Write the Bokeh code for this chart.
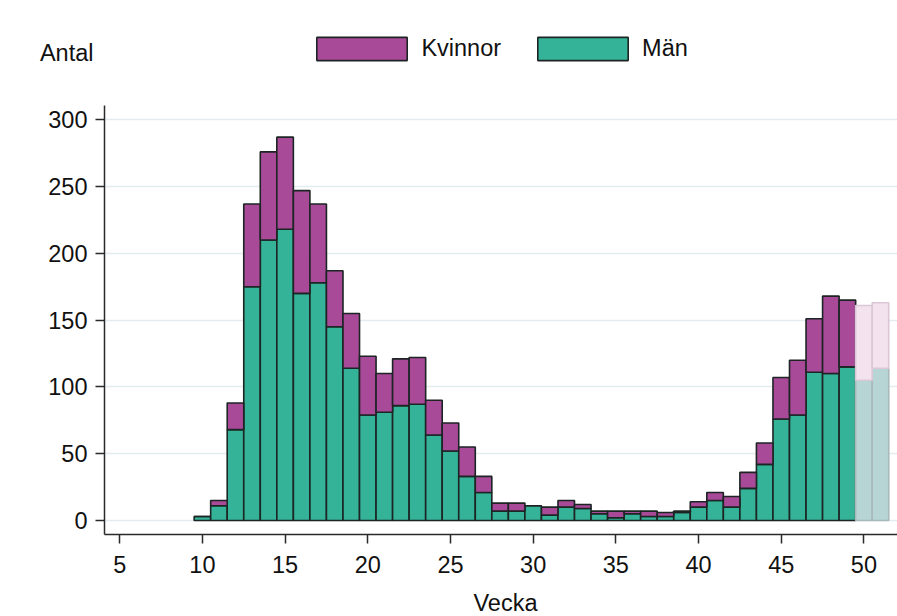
from bokeh.plotting import figure
from bokeh.layouts import column
from bokeh.models import ColumnDataSource, Legend, LegendItem, Label, Range1d, FixedTicker
from bokeh.embed import file_html
from bokeh.resources import INLINE

# ---- data ----
weeks = [10, 11, 12, 13, 14, 15, 16, 17, 18, 19, 20, 21, 22, 23, 24, 25, 26, 27, 28, 29,
         30, 31, 32, 33, 34, 35, 36, 37, 38, 39, 40, 41, 42, 43, 44, 45, 46, 47, 48, 49,
         50, 51]
men = [3, 11, 68, 175, 210, 218, 170, 178, 145, 114, 79, 81, 86, 87, 64, 52, 33, 21, 7, 7,
       11, 4, 10, 9, 5, 2, 5, 3, 3, 6, 10, 15, 10, 24, 42, 76, 79, 111, 110, 115,
       105, 114]
women = [0, 4, 20, 62, 66, 69, 77, 59, 42, 41, 44, 29, 35, 35, 26, 21, 22, 12, 6, 6,
         0, 6, 5, 3, 2, 5, 2, 4, 3, 1, 4, 6, 8, 12, 16, 31, 41, 40, 58, 50,
         56, 49]
preliminary_weeks = [50, 51]
x_ticks = [5, 10, 15, 20, 25, 30, 35, 40, 45, 50]
y_ticks = [0, 50, 100, 150, 200, 250, 300]
series_labels = ["Kvinnor", "Män"]
x_title = "Vecka"
y_title = "Antal"

# ---- styles ----
FONT = "Liberation Sans"
FS = "23.5px"
TXT = "#111111"
C_WOMEN = "#a94a98"
C_MEN = "#34b398"
C_WOMEN_PRE = "#f2e3ef"
C_MEN_PRE = "#b7d5d5"
OUTLINE = "#1c2424"
OUTLINE_PRE = "#a9b9b9"
OUTLINE_PRE_W = "#dcc7d6"
W = 897
LEFT = 104


def build(sel):
    d = {"week": [], "men": [], "total": []}
    for w, m, f in zip(weeks, men, women):
        if sel(w):
            d["week"].append(w)
            d["men"].append(m)
            d["total"].append(m + f)
    return ColumnDataSource(d)


src = build(lambda w: w not in preliminary_weeks)
src_pre = build(lambda w: w in preliminary_weeks)

# ---------------- main chart ----------------
p = figure(width=W, height=479, output_backend="svg", toolbar_location=None,
           x_range=Range1d(4.08, 52.03), y_range=Range1d(-10.5, 310.7),
           min_border_left=LEFT, min_border_right=0, min_border_top=0, min_border_bottom=50)
p.outline_line_color = None

p.vbar(x="week", width=1.0, bottom=0, top="men", source=src,
       fill_color=C_MEN, line_color=OUTLINE, line_width=1.6)
p.vbar(x="week", width=1.0, bottom="men", top="total", source=src,
       fill_color=C_WOMEN, line_color=OUTLINE, line_width=1.6)
p.vbar(x="week", width=1.0, bottom=0, top="men", source=src_pre,
       fill_color=C_MEN_PRE, line_color=OUTLINE_PRE, line_width=1.6)
p.vbar(x="week", width=1.0, bottom="men", top="total", source=src_pre,
       fill_color=C_WOMEN_PRE, line_color=OUTLINE_PRE_W, line_width=1.6)

for ax in (p.xaxis[0], p.yaxis[0]):
    ax.axis_line_color = "#2a2a2a"
    ax.axis_line_width = 1.5
    ax.major_tick_line_color = "#2a2a2a"
    ax.major_tick_line_width = 1.5
    ax.major_tick_in = 0
    ax.major_tick_out = 9
    ax.minor_tick_line_color = None
    ax.major_label_text_font = FONT
    ax.major_label_text_font_size = FS
    ax.major_label_text_color = TXT

p.xaxis.ticker = FixedTicker(ticks=x_ticks)
p.yaxis.ticker = FixedTicker(ticks=y_ticks)
p.xaxis.major_label_standoff = 12
p.yaxis.major_label_standoff = 8

p.xgrid.visible = False
p.ygrid.ticker = FixedTicker(ticks=y_ticks)
p.ygrid.grid_line_color = "#e3ecee"
p.ygrid.grid_line_width = 1.5

# ---------------- header: y title + legend ----------------
h = figure(width=W, height=105, output_backend="svg", toolbar_location=None,
           x_range=Range1d(4.08, 52.03), y_range=Range1d(-10.5, 310.7),
           x_axis_type=None,
           min_border_left=LEFT, min_border_right=0, min_border_top=0, min_border_bottom=0)
h.outline_line_color = None
h.xgrid.visible = False
h.ygrid.visible = False
hy = h.yaxis[0]
hy.ticker = FixedTicker(ticks=[])
hy.axis_line_color = None
hy.major_tick_line_color = None
hy.minor_tick_line_color = None
hy.major_tick_out = 0
hy.major_tick_in = 0
hy.axis_label = y_title
hy.axis_label_orientation = "horizontal"
hy.axis_label_standoff = 11
hy.axis_label_text_font = FONT
hy.axis_label_text_font_size = FS
hy.axis_label_text_font_style = "normal"
hy.axis_label_text_color = TXT

# legend proxies (hidden renderers sharing the chart's data)
lw = h.vbar(x="week", width=1.0, bottom="men", top="total", source=src,
            fill_color=C_WOMEN, line_color=OUTLINE, line_width=1.6, visible=False)
lm = h.vbar(x="week", width=1.0, bottom=0, top="men", source=src,
            fill_color=C_MEN, line_color=OUTLINE, line_width=1.6, visible=False)

legend = Legend(items=[LegendItem(label=series_labels[0], renderers=[lw]),
                       LegendItem(label=series_labels[1], renderers=[lm])],
                orientation="horizontal", location=(201.4, 42.2),
                glyph_width=113, glyph_height=29, label_standoff=3, spacing=25,
                padding=0, margin=0, border_line_alpha=0, background_fill_alpha=0,
                inactive_fill_alpha=0, click_policy="none",
                label_text_font=FONT, label_text_font_size=FS, label_text_color=TXT,
                label_height=29)
h.add_layout(legend, "center")

# ---------------- footer: x title ----------------
f = figure(width=W, height=616 - 105 - 479, output_backend="svg", toolbar_location=None,
           x_range=Range1d(4.08, 52.03), y_range=Range1d(0, 1),
           x_axis_type=None, y_axis_type=None,
           min_border_left=LEFT, min_border_right=0, min_border_top=0, min_border_bottom=0)
f.outline_line_color = None
f.xgrid.visible = False
f.ygrid.visible = False
f.add_layout(Label(x=401, y=14, x_units="screen", y_units="screen", text=x_title,
                   text_font=FONT, text_font_size=FS, text_color=TXT,
                   text_baseline="alphabetic", text_align="center"))

layout = column(h, p, f, spacing=0)
open("out.html", "w").write(file_html(layout, INLINE))
